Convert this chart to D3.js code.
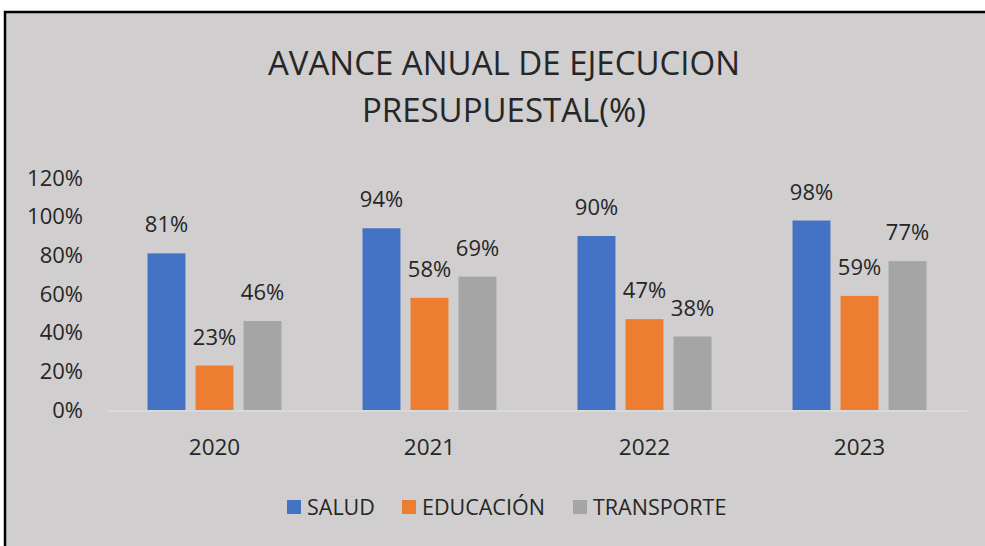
<!DOCTYPE html>
<html>
<head>
<meta charset="utf-8">
<script src="https://cdn.jsdelivr.net/npm/d3@7"></script>
<style>
  html, body { margin: 0; padding: 0; background: #fff; }
  text { font-family: "Open Sans", sans-serif; fill: #262626; }
</style>
</head>
<body>
<div id="chart"></div>
<script>
const width = 985;
const height = 546;

// data
const years = ["2020", "2021", "2022", "2023"];
const seriesNames = ["SALUD", "EDUCACIÓN", "TRANSPORTE"];
const salud = [0.81, 0.94, 0.90, 0.98];
const educacion = [0.23, 0.58, 0.47, 0.59];
const transporte = [0.46, 0.69, 0.38, 0.77];
const yTicks = [0, 0.2, 0.4, 0.6, 0.8, 1.0, 1.2];
const titleLines = ["AVANCE ANUAL DE EJECUCION", "PRESUPUESTAL(%)"];

const colors = ["#4472C4", "#ED7D31", "#A5A5A5"];
const seriesValues = [salud, educacion, transporte];

const svg = d3.select("#chart")
  .append("svg")
  .attr("width", width)
  .attr("height", height);

// chart area with black frame
svg.append("rect")
  .attr("x", 5)
  .attr("y", 12)
  .attr("width", 1010)
  .attr("height", 560)
  .attr("fill", "#D0CECE")
  .attr("stroke", "#000")
  .attr("stroke-width", 2.5);

// title
svg.append("g").selectAll("text")
  .data(titleLines)
  .enter()
  .append("text")
  .attr("x", 504)
  .attr("y", (d, i) => 75 + i * 47)
  .attr("text-anchor", "middle")
  .style("font-size", "33px")
  .text(d => d);

const x0 = d3.scaleBand()
  .domain(years)
  .range([107, 967])
  .paddingInner(0.377)
  .paddingOuter(0.377 / 2);

const x1 = d3.scaleBand()
  .domain(seriesNames)
  .range([0, x0.bandwidth()])
  .paddingInner(0.21);

const y = d3.scaleLinear()
  .domain([0, 1.2])
  .range([410, 178]);

// y axis labels
const yAxis = svg.append("g")
  .attr("transform", "translate(83,0)")
  .call(d3.axisLeft(y).tickValues(yTicks).tickFormat(d3.format(".0%")).tickSize(0).tickPadding(0));
yAxis.select(".domain").remove();
yAxis.selectAll("text").style("font-size", "22px").attr("fill", "#262626").attr("font-family", null);

// baseline
svg.append("line")
  .attr("x1", 107)
  .attr("x2", 967)
  .attr("y1", y(0) + 1)
  .attr("y2", y(0) + 1)
  .attr("stroke", "#D9D9D9")
  .attr("stroke-width", 2);

// bars
const rows = years.map((yr, i) => ({
  year: yr,
  values: seriesNames.map((s, j) => ({ series: s, value: seriesValues[j][i], color: colors[j] }))
}));

const groups = svg.append("g").selectAll("g")
  .data(rows)
  .enter()
  .append("g")
  .attr("transform", d => `translate(${x0(d.year)},0)`);

groups.selectAll("rect")
  .data(d => d.values)
  .enter()
  .append("rect")
  .attr("x", d => x1(d.series))
  .attr("y", d => y(d.value))
  .attr("width", x1.bandwidth())
  .attr("height", d => y(0) - y(d.value))
  .attr("fill", d => d.color);

groups.selectAll("text.lbl")
  .data(d => d.values)
  .enter()
  .append("text")
  .attr("class", "lbl")
  .attr("x", d => x1(d.series) + x1.bandwidth() / 2)
  .attr("y", d => y(d.value) - 21)
  .attr("text-anchor", "middle")
  .style("font-size", "22px")
  .text(d => d3.format(".0%")(d.value));

// category labels
const xAxis = svg.append("g")
  .attr("transform", `translate(0,${y(0)})`)
  .call(d3.axisBottom(x0).tickSize(0).tickPadding(0));
xAxis.select(".domain").remove();
xAxis.selectAll("text")
  .attr("y", 45)
  .attr("dy", 0)
  .style("font-size", "22.5px")
  .attr("fill", "#262626")
  .attr("font-family", null);

// legend
const legendX = [287, 402, 573];
const legend = svg.append("g").selectAll("g")
  .data(seriesNames)
  .enter()
  .append("g")
  .attr("transform", (d, i) => `translate(${legendX[i]},500)`);

legend.append("rect")
  .attr("width", 14)
  .attr("height", 14)
  .attr("fill", (d, i) => colors[i]);

legend.append("text")
  .attr("x", 20)
  .attr("y", 15)
  .style("font-size", "21.5px")
  .text(d => d);
</script>
</body>
</html>
